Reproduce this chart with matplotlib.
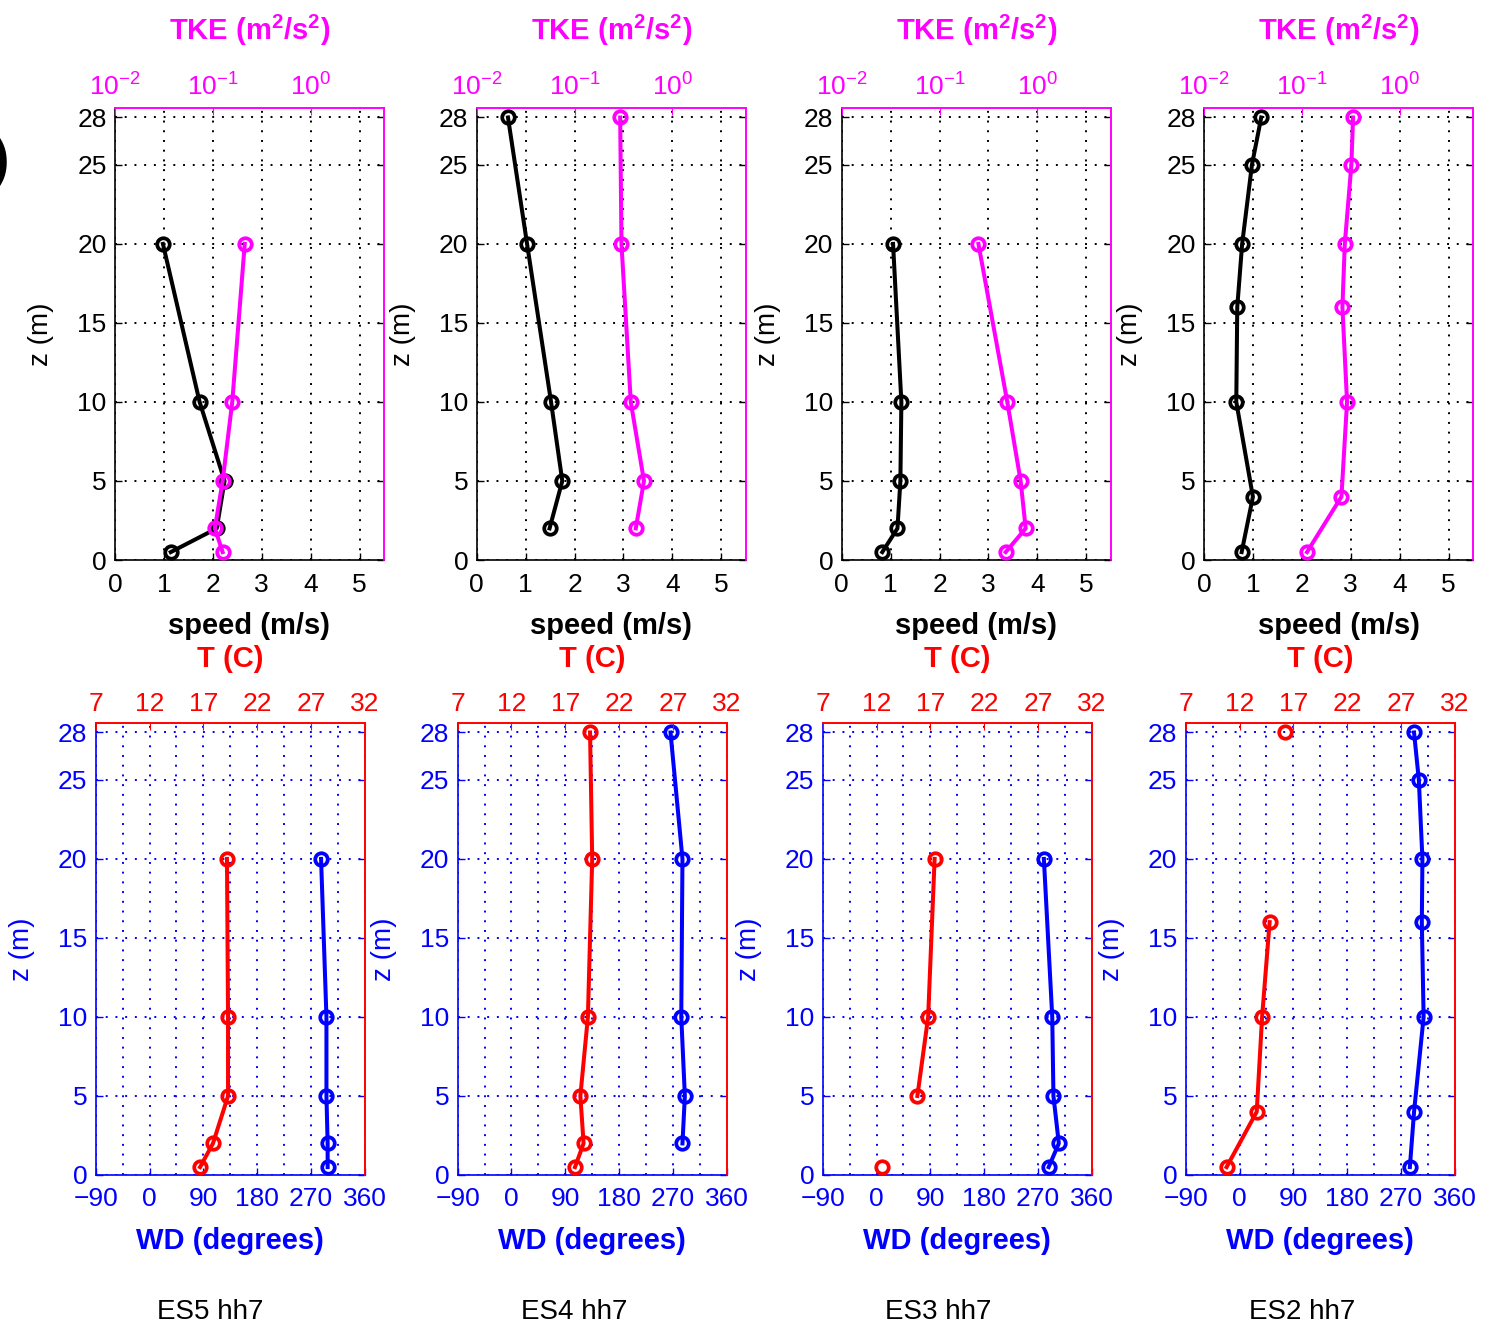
import numpy as np
import matplotlib
matplotlib.use('Agg')
import matplotlib.pyplot as plt
from matplotlib.ticker import NullLocator, FixedLocator, NullFormatter

plt.rcParams['font.family'] = ['Liberation Sans', 'DejaVu Sans']
plt.rcParams['mathtext.fontset'] = 'custom'
plt.rcParams['mathtext.rm'] = 'Liberation Sans'
plt.rcParams['mathtext.bf'] = 'Liberation Sans:bold'

nan = np.nan

# station names
names = ['ES5 hh7', 'ES4 hh7', 'ES3 hh7', 'ES2 hh7']

# top row: wind speed (m/s) and TKE (m2/s2) against height z (m)
z_top = [[20, 10, 5, 2, 0.5],
         [28, 20, 10, 5, 2],
         [20, 10, 5, 2, 0.5],
         [28, 25, 20, 16, 10, 4, 0.5]]
speed = [[0.98, 1.73, 2.24, 2.08, 1.14],
         [0.64, 1.03, 1.52, 1.75, 1.49],
         [1.05, 1.22, 1.20, 1.14, 0.83],
         [1.17, 0.98, 0.78, 0.68, 0.66, 1.00, 0.77]]
tke = [[0.212, 0.158, 0.126, 0.105, 0.126],
       [0.293, 0.302, 0.376, 0.513, 0.423],
       [0.250, 0.493, 0.675, 0.760, 0.475],
       [0.334, 0.321, 0.275, 0.260, 0.290, 0.254, 0.113]]

# bottom row: temperature (C) and wind direction (deg) against height z (m)
z_bot = [[20, 10, 5, 2, 0.5],
         [28, 20, 10, 5, 2, 0.5],
         [20, 10, 5, 2, 0.5],
         [28, 25, 20, 16, 10, 4, 0.5]]
temp = [[19.2, 19.3, 19.3, 17.9, 16.7],
        [19.3, 19.5, 19.1, 18.4, 18.7, 17.9],
        [17.4, 16.8, 15.8, nan, 12.5],
        [16.2, nan, nan, 14.8, 14.1, 13.6, 10.8]]
wd = [[287, 296, 296, 298, 298],
      [266, 286, 284, 290, 286, nan],
      [280, 294, 296, 305, 288],
      [292, 300, 306, 305, 308, 292, 285]]

z_ticks = [0, 5, 10, 15, 20, 25, 28]

MAG = '#ff00ff'
RED = '#ff0000'
BLUE = '#0000ff'

W, H = 1489, 1333
fig = plt.figure(figsize=(W / 100, H / 100), dpi=100)

top_left = [115, 476.7, 841.7, 1204]
bot_left = [95.7, 457.7, 822.7, 1185.7]
aw = 269 / W
ah = 452 / H

TS = 19    # tick labels
LS = 21    # axis labels
lkw = dict(lw=2.9, marker='o', ms=9, mew=2.7, mfc='none')
gkw = dict(linestyle=(0, (1, 4)), linewidth=1.4)


def style_main(ax, col, col2):
    ax.tick_params(direction='in', length=5, labelsize=TS, top=False, right=True,
                   colors=col, width=1)
    ax.tick_params(axis='x', pad=9)
    ax.tick_params(axis='y', pad=6)
    for s in ['left', 'bottom']:
        ax.spines[s].set_color(col)
        ax.spines[s].set_linewidth(1.2)
    for s in ['top', 'right']:
        ax.spines[s].set_color(col2)
        ax.spines[s].set_linewidth(1.2)


for i in range(4):
    # ---------- top row ----------
    ax = fig.add_axes([top_left[i] / W, 1 - 560 / H, aw, ah])
    ax.plot(speed[i], z_top[i], color='k', **lkw, zorder=3)
    ax.set_xlim(0, 5.5)
    ax.set_ylim(0, 28.6)
    ax.set_xticks(range(6))
    ax.set_yticks(z_ticks)
    ax.grid(True, color='k', **gkw)
    style_main(ax, 'k', MAG)
    ax.set_xlabel('speed (m/s)', fontsize=LS, fontweight='bold', color='k')
    ax.xaxis.set_label_coords(0.5, -0.115)
    ax.set_ylabel('z (m)', fontsize=20, color='k')
    ax.yaxis.set_label_coords(-0.225, 0.5)

    ax2 = ax.twiny()
    ax2.plot(tke[i], z_top[i], color=MAG, **lkw, zorder=3)
    ax2.set_xscale('log')
    ax2.set_xlim(1e-2, 10 ** 0.75)
    ax2.xaxis.set_major_locator(FixedLocator([1e-2, 1e-1, 1e0]))
    ax2.xaxis.set_minor_locator(NullLocator())
    ax2.tick_params(direction='in', length=5, labelsize=TS, colors=MAG, pad=5)
    for s in ['left', 'bottom']:
        ax2.spines[s].set_visible(False)
    for s in ['top', 'right']:
        ax2.spines[s].set_color(MAG)
        ax2.spines[s].set_linewidth(1.2)
    ax2.set_xlabel(r'TKE (m$^{\mathbf{2}}$/s$^{\mathbf{2}}$)', fontsize=LS,
                   fontweight='bold', color=MAG)
    ax2.xaxis.set_label_coords(0.5, 1.15)

    # ---------- bottom row ----------
    bx = fig.add_axes([bot_left[i] / W, 1 - 1175 / H, aw, ah])
    bx.plot(wd[i], z_bot[i], color=BLUE, **lkw, zorder=3)
    bx.set_xlim(-90, 360)
    bx.set_ylim(0, 28.6)
    bx.set_xticks(range(-90, 361, 90))
    bx.xaxis.set_minor_locator(FixedLocator(list(range(-45, 360, 90))))
    bx.xaxis.set_minor_formatter(NullFormatter())
    bx.set_yticks(z_ticks)
    bx.grid(True, which='both', color=BLUE, **gkw)
    style_main(bx, BLUE, RED)
    bx.tick_params(which='minor', length=0)
    bx.set_xlabel('WD (degrees)', fontsize=LS, fontweight='bold', color=BLUE)
    bx.xaxis.set_label_coords(0.5, -0.115)
    bx.set_ylabel('z (m)', fontsize=20, color=BLUE)
    bx.yaxis.set_label_coords(-0.225, 0.5)

    bx2 = bx.twiny()
    bx2.plot(temp[i], z_bot[i], color=RED, **lkw, zorder=3)
    bx2.set_xlim(7, 32)
    bx2.set_xticks(range(7, 33, 5))
    bx2.tick_params(direction='in', length=5, labelsize=TS, colors=RED, pad=5)
    for s in ['left', 'bottom']:
        bx2.spines[s].set_visible(False)
    for s in ['top', 'right']:
        bx2.spines[s].set_color(RED)
        bx2.spines[s].set_linewidth(1.2)
    bx2.set_xlabel('T (C)', fontsize=LS, fontweight='bold', color=RED)
    bx2.xaxis.set_label_coords(0.5, 1.125)

    fig.text((210 + 364 * i) / W, 1 - 1312 / H, names[i], fontsize=20,
             ha='center', va='center', color='k')

# piece of the panel letter cut off at the left edge (as in the source figure)
fig.text(0.0, 1 - 162 / H, ')', fontsize=40, fontweight='bold', ha='center',
         va='center', color='k')

fig.savefig('out.png', dpi=100)
